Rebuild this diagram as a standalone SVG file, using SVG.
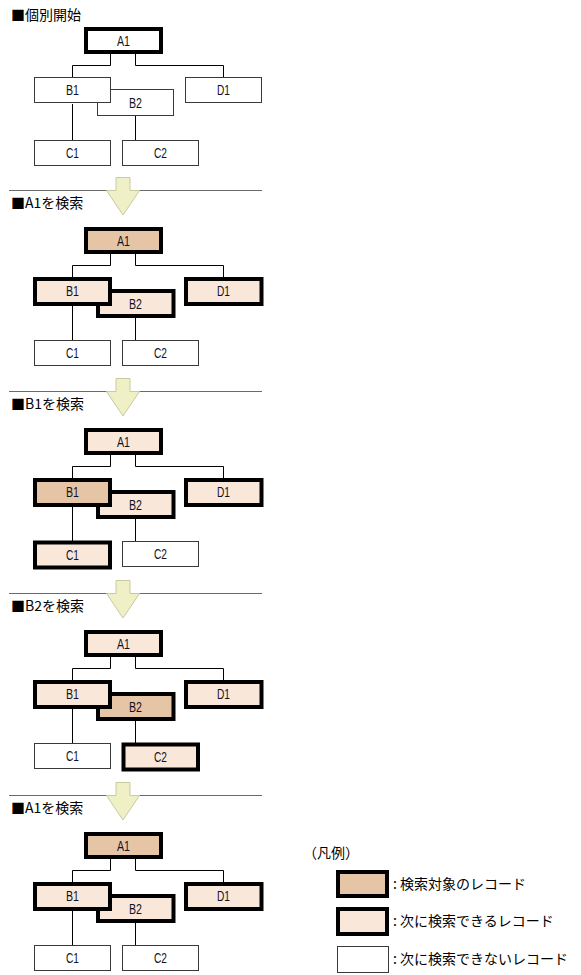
<svg xmlns="http://www.w3.org/2000/svg" xmlns:xlink="http://www.w3.org/1999/xlink" width="581" height="975" viewBox="0 0 581 975">
<style>
.bg{fill:#ffffff}
.thin{fill:#ffffff;stroke:#3a3a3a;stroke-width:1}
.thick{stroke:#000000;stroke-width:4}
.w{fill:#ffffff}
.tan{fill:#e6c5a6}
.pale{fill:#f9e8da}
.lbl{font-family:"Liberation Sans",Arial,sans-serif;font-size:14px;fill:#111122;text-anchor:middle}
.ttl{font-family:"Noto Sans CJK JP","Noto Sans",sans-serif;font-size:14px;fill:#000}
.conn{fill:none;stroke:#000;stroke-width:1}
.sep{stroke:#6a6a6a;stroke-width:1}
.arrow{fill:#f0f0c6;stroke:#c9c9a2;stroke-width:1}
</style>
<defs>
<path id="tree" class="conn" d="M110.5,53 V65.5 H72.5 V78 M135.5,53 V65.5 H223.5 V78 M72.5,104 V140 M135.5,116 V140"/>
</defs>
<rect class="bg" x="0" y="0" width="581" height="975"/>

<g id="connectors">
<use xlink:href="#tree" href="#tree"/>
<use xlink:href="#tree" href="#tree" transform="translate(0,200)"/>
<use xlink:href="#tree" href="#tree" transform="translate(0,401)"/>
<use xlink:href="#tree" href="#tree" transform="translate(0,603)"/>
<use xlink:href="#tree" href="#tree" transform="translate(0,805)"/>
</g>

<g id="separators">
<line class="sep" x1="9" y1="190.5" x2="262" y2="190.5"/>
<line class="sep" x1="9" y1="391.5" x2="262" y2="391.5"/>
<line class="sep" x1="9" y1="593.5" x2="262" y2="593.5"/>
<line class="sep" x1="9" y1="795.5" x2="262" y2="795.5"/>
</g>

<g id="step-arrows">
<polygon class="arrow" points="116,177.5 130,177.5 130,190.5 139.5,190.5 123,215 106.5,190.5 116,190.5"/>
<polygon class="arrow" points="116,378.5 130,378.5 130,391.5 139.5,391.5 123,416 106.5,391.5 116,391.5"/>
<polygon class="arrow" points="116,580.5 130,580.5 130,593.5 139.5,593.5 123,618 106.5,593.5 116,593.5"/>
<polygon class="arrow" points="116,782.5 130,782.5 130,795.5 139.5,795.5 123,820 106.5,795.5 116,795.5"/>
</g>

<g id="titles">
<text class="ttl" x="11" y="20">■個別開始</text>
<text class="ttl" x="11" y="208">■A1を検索</text>
<text class="ttl" x="11" y="409">■B1を検索</text>
<text class="ttl" x="11" y="611">■B2を検索</text>
<text class="ttl" x="11" y="813">■A1を検索</text>
</g>

<!-- Section 1 -->
<g id="s1">
<g id="s1-A1"><rect class="thick w" x="86" y="29" width="75" height="23"/><text class="lbl" x="123.5" y="45.5" textLength="13" lengthAdjust="spacingAndGlyphs">A1</text></g>
<g id="s1-B2"><rect class="thin" x="97.5" y="89.5" width="76" height="26"/><text class="lbl" x="135.5" y="107.5" textLength="13" lengthAdjust="spacingAndGlyphs">B2</text></g>
<g id="s1-B1"><rect class="thin" x="34.5" y="77.5" width="76" height="25"/><text class="lbl" x="72.5" y="95" textLength="13" lengthAdjust="spacingAndGlyphs">B1</text></g>
<g id="s1-D1"><rect class="thin" x="185.5" y="77.5" width="76" height="25"/><text class="lbl" x="223.5" y="95" textLength="13" lengthAdjust="spacingAndGlyphs">D1</text></g>
<g id="s1-C1"><rect class="thin" x="34.5" y="140.5" width="76" height="25"/><text class="lbl" x="72.5" y="158" textLength="13" lengthAdjust="spacingAndGlyphs">C1</text></g>
<g id="s1-C2"><rect class="thin" x="122.5" y="140.5" width="76" height="25"/><text class="lbl" x="160.5" y="158" textLength="13" lengthAdjust="spacingAndGlyphs">C2</text></g>
</g>

<!-- Section 2 -->
<g id="s2" transform="translate(0,200)">
<g id="s2-A1"><rect class="thick tan" x="86" y="29" width="75" height="23"/><text class="lbl" x="123.5" y="45.5" textLength="13" lengthAdjust="spacingAndGlyphs">A1</text></g>
<g id="s2-B2"><rect class="thick pale" x="98" y="91" width="75.5" height="25"/><text class="lbl" x="135.5" y="108.5" textLength="13" lengthAdjust="spacingAndGlyphs">B2</text></g>
<g id="s2-B1"><rect class="thick pale" x="35" y="79" width="75" height="25"/><text class="lbl" x="72.5" y="96" textLength="13" lengthAdjust="spacingAndGlyphs">B1</text></g>
<g id="s2-D1"><rect class="thick pale" x="186" y="79" width="75.5" height="25"/><text class="lbl" x="223.5" y="96" textLength="13" lengthAdjust="spacingAndGlyphs">D1</text></g>
<g id="s2-C1"><rect class="thin" x="34.5" y="140.5" width="76" height="25"/><text class="lbl" x="72.5" y="158" textLength="13" lengthAdjust="spacingAndGlyphs">C1</text></g>
<g id="s2-C2"><rect class="thin" x="122.5" y="140.5" width="76" height="25"/><text class="lbl" x="160.5" y="158" textLength="13" lengthAdjust="spacingAndGlyphs">C2</text></g>
</g>

<!-- Section 3 -->
<g id="s3" transform="translate(0,401)">
<g id="s3-A1"><rect class="thick pale" x="86" y="29" width="75" height="23"/><text class="lbl" x="123.5" y="45.5" textLength="13" lengthAdjust="spacingAndGlyphs">A1</text></g>
<g id="s3-B2"><rect class="thick pale" x="98" y="91" width="75.5" height="25"/><text class="lbl" x="135.5" y="108.5" textLength="13" lengthAdjust="spacingAndGlyphs">B2</text></g>
<g id="s3-B1"><rect class="thick tan" x="35" y="79" width="75" height="25"/><text class="lbl" x="72.5" y="96" textLength="13" lengthAdjust="spacingAndGlyphs">B1</text></g>
<g id="s3-D1"><rect class="thick pale" x="186" y="79" width="75.5" height="25"/><text class="lbl" x="223.5" y="96" textLength="13" lengthAdjust="spacingAndGlyphs">D1</text></g>
<g id="s3-C1"><rect class="thick pale" x="35" y="141.5" width="75" height="25"/><text class="lbl" x="72.5" y="159" textLength="13" lengthAdjust="spacingAndGlyphs">C1</text></g>
<g id="s3-C2"><rect class="thin" x="122.5" y="140.5" width="76" height="25"/><text class="lbl" x="160.5" y="158" textLength="13" lengthAdjust="spacingAndGlyphs">C2</text></g>
</g>

<!-- Section 4 -->
<g id="s4" transform="translate(0,603)">
<g id="s4-A1"><rect class="thick pale" x="86" y="29" width="75" height="23"/><text class="lbl" x="123.5" y="45.5" textLength="13" lengthAdjust="spacingAndGlyphs">A1</text></g>
<g id="s4-B2"><rect class="thick tan" x="98" y="91" width="75.5" height="25"/><text class="lbl" x="135.5" y="108.5" textLength="13" lengthAdjust="spacingAndGlyphs">B2</text></g>
<g id="s4-B1"><rect class="thick pale" x="35" y="79" width="75" height="25"/><text class="lbl" x="72.5" y="96" textLength="13" lengthAdjust="spacingAndGlyphs">B1</text></g>
<g id="s4-D1"><rect class="thick pale" x="186" y="79" width="75.5" height="25"/><text class="lbl" x="223.5" y="96" textLength="13" lengthAdjust="spacingAndGlyphs">D1</text></g>
<g id="s4-C1"><rect class="thin" x="34.5" y="140.5" width="76" height="25"/><text class="lbl" x="72.5" y="158" textLength="13" lengthAdjust="spacingAndGlyphs">C1</text></g>
<g id="s4-C2"><rect class="thick pale" x="123.5" y="141.5" width="74.5" height="25"/><text class="lbl" x="160.5" y="159" textLength="13" lengthAdjust="spacingAndGlyphs">C2</text></g>
</g>

<!-- Section 5 -->
<g id="s5" transform="translate(0,805)">
<g id="s5-A1"><rect class="thick tan" x="86" y="29" width="75" height="23"/><text class="lbl" x="123.5" y="45.5" textLength="13" lengthAdjust="spacingAndGlyphs">A1</text></g>
<g id="s5-B2"><rect class="thick pale" x="98" y="91" width="75.5" height="25"/><text class="lbl" x="135.5" y="108.5" textLength="13" lengthAdjust="spacingAndGlyphs">B2</text></g>
<g id="s5-B1"><rect class="thick pale" x="35" y="79" width="75" height="25"/><text class="lbl" x="72.5" y="96" textLength="13" lengthAdjust="spacingAndGlyphs">B1</text></g>
<g id="s5-D1"><rect class="thick pale" x="186" y="79" width="75.5" height="25"/><text class="lbl" x="223.5" y="96" textLength="13" lengthAdjust="spacingAndGlyphs">D1</text></g>
<g id="s5-C1"><rect class="thin" x="34.5" y="140.5" width="76" height="25"/><text class="lbl" x="72.5" y="158" textLength="13" lengthAdjust="spacingAndGlyphs">C1</text></g>
<g id="s5-C2"><rect class="thin" x="122.5" y="140.5" width="76" height="25"/><text class="lbl" x="160.5" y="158" textLength="13" lengthAdjust="spacingAndGlyphs">C2</text></g>
</g>

<!-- Legend -->
<g id="legend">
<text class="ttl" x="303" y="858" font-size="13">（凡例）</text>
<g id="legend-target"><rect class="thick tan" x="338" y="872" width="49" height="24"/><text class="ttl" x="393" y="889">: 検索対象のレコード</text></g>
<g id="legend-next"><rect class="thick pale" x="338" y="909" width="49" height="25"/><text class="ttl" x="393" y="926">: 次に検索できるレコード</text></g>
<g id="legend-none"><rect class="thin" x="337.5" y="946.5" width="51" height="26"/><text class="ttl" x="393" y="964">: 次に検索できないレコード</text></g>
</g>
</svg>
